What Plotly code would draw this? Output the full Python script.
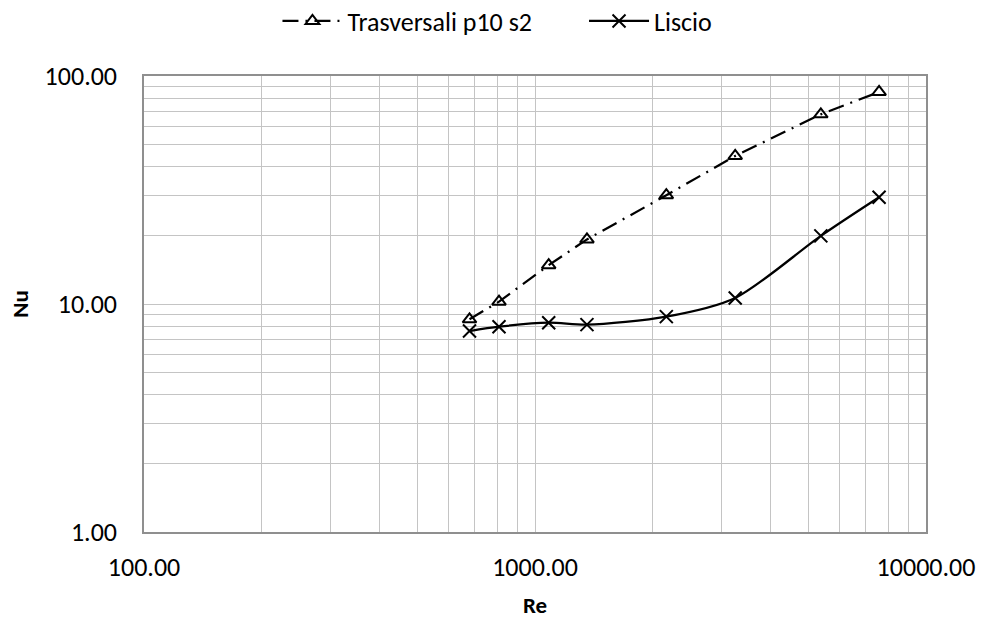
import plotly.graph_objects as go

# Reynolds numbers and Nusselt numbers for the two surfaces
re_trasv = [680, 809, 1084, 1358, 2167, 3251, 5383, 7586]
nu_trasv = [8.57, 10.24, 14.8, 19.2, 30.0, 44.6, 67.9, 85.1]

re_liscio = [680, 809, 1084, 1358, 2167, 3251, 5383, 7586]
nu_liscio = [7.61, 7.95, 8.28, 8.12, 8.80, 10.63, 19.9, 29.4]

x_major = [100, 1000, 10000]
x_major_text = ["100.00", "1000.00", "10000.00"]
y_major = [1, 10, 100]
y_major_text = ["1.00", "10.00", "100.00"]

FONT = "Calibri, Carlito, Lato, sans-serif"
GAP = "\u00a0" * 8  # extra room between the two legend entries


def log_grid(majors, labels):
    vals, texts = [], []
    for i, m in enumerate(majors):
        vals.append(m)
        texts.append(labels[i])
        if i < len(majors) - 1:
            for k in range(2, 10):
                vals.append(m * k)
                texts.append("")
    return vals, texts


xv, xt = log_grid(x_major, x_major_text)
yv, yt = log_grid(y_major, y_major_text)

fig = go.Figure()
fig.add_trace(go.Scatter(
    x=re_trasv, y=nu_trasv, name="Trasversali p10 s2" + GAP,
    mode="lines+markers",
    line=dict(color="black", width=2.25, dash="16px,7px,2px,7px"),
    marker=dict(symbol="triangle-up-open", size=12, color="black",
                line=dict(width=2, color="black")),
))
fig.add_trace(go.Scatter(
    x=re_liscio, y=nu_liscio, name="Liscio",
    mode="lines+markers",
    line=dict(color="black", width=2.25, shape="spline", smoothing=0.8),
    marker=dict(symbol="x-thin-open", size=13, color="black",
                line=dict(width=2, color="black")),
))

axis_common = dict(
    type="log",
    showgrid=True, gridcolor="#c4c4c4", gridwidth=1.3,
    showline=True, linecolor="#8f8f8f", linewidth=1.5, mirror=True,
    ticks="", zeroline=False, automargin=False,
    tickfont=dict(family=FONT, size=26, color="black"),
)

fig.update_xaxes(
    range=[2, 4], tickmode="array", tickvals=xv, ticktext=xt,
    ticklabelstandoff=11,
    title=dict(text="<b>Re</b>", font=dict(family=FONT, size=23, color="black"),
               standoff=16),
    **axis_common,
)
fig.update_yaxes(
    range=[0, 2], tickmode="array", tickvals=yv, ticktext=yt,
    ticklabelstandoff=20,
    title=dict(text="<b>Nu</b>", font=dict(family=FONT, size=23, color="black"),
               standoff=10),
    **axis_common,
)

fig.update_layout(
    width=982, height=619,
    paper_bgcolor="white", plot_bgcolor="white",
    margin=dict(l=144, r=56, t=76, b=87),
    font=dict(family=FONT, color="black"),
    legend=dict(
        orientation="h", x=0.452, xanchor="center", y=0.966, yanchor="middle",
        yref="container", itemwidth=60,
        font=dict(family=FONT, size=26, color="black"),
    ),
    showlegend=True,
)

fig.write_html("out.html")
